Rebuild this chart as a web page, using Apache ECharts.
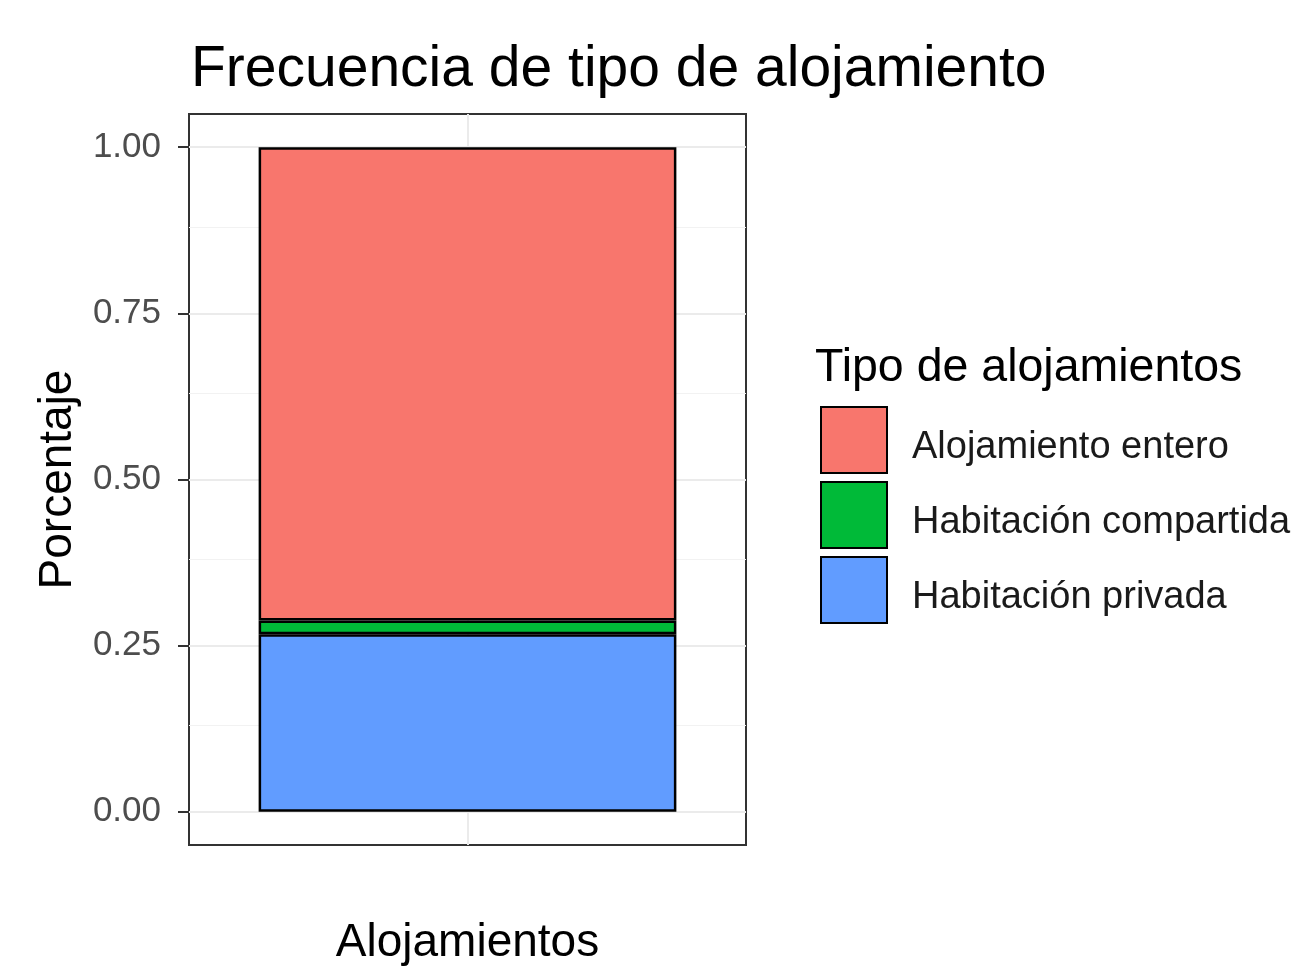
<!DOCTYPE html>
<html>
<head>
<meta charset="utf-8">
<script src="https://cdn.jsdelivr.net/npm/echarts@6/dist/echarts.min.js"></script>
<style>
  html, body { margin: 0; padding: 0; background: #fff; }
  #chart { width: 1315px; height: 970px; }
</style>
</head>
<body>
<div id="chart"></div>
<script>
  var categories = ['']
  var tipos = ['Alojamiento entero', 'Habitación compartida', 'Habitación privada']
  var entero = [0.712]
  var compartida = [0.021]
  var privada = [0.267]
  var majorTicks = [0, 0.25, 0.5, 0.75, 1]
  var minorTicks = [0.125, 0.375, 0.625, 0.875]

  var font = '"Liberation Sans", Arial, sans-serif'
  var myChart = echarts.init(document.getElementById('chart'))

  // lineas de la rejilla (estilo theme_bw)
  var gridLines = []
  majorTicks.forEach(function (v) {
    gridLines.push({ yAxis: v, lineStyle: { color: '#ebebeb', width: 2, type: 'solid' } })
  })
  minorTicks.forEach(function (v) {
    gridLines.push({ yAxis: v, lineStyle: { color: '#f2f2f2', width: 1, type: 'solid' } })
  })
  categories.forEach(function (c, i) {
    gridLines.push({ xAxis: i, lineStyle: { color: '#ebebeb', width: 2, type: 'solid' } })
  })

  function barSerie(name, data, color) {
    return {
      name: name,
      type: 'bar',
      stack: 'total',
      barWidth: '75%',
      z: 3,
      itemStyle: { color: color, borderColor: '#000', borderWidth: 2.5 },
      data: data
    }
  }

  var option = {
    backgroundColor: '#fff',
    animation: false,
    title: [{
      text: 'Frecuencia de tipo de alojamiento',
      left: 186,
      top: 37,
      textStyle: { fontFamily: font, fontSize: 57, fontWeight: 'normal', color: '#000' }
    }, {
      text: 'Tipo de alojamientos',
      left: 810,
      top: 340,
      textStyle: { fontFamily: font, fontSize: 46.5, fontWeight: 'normal', color: '#000' }
    }],
    legend: {
      data: tipos,
      orient: 'vertical',
      left: 815,
      top: 401,
      icon: 'rect',
      itemWidth: 66,
      itemHeight: 66,
      itemGap: 7,
      itemStyle: { borderColor: '#000', borderWidth: 2 },
      formatter: '{t|{name}}',
      textStyle: {
        fontFamily: font, fontSize: 38, color: '#1a1a1a',
        rich: { t: { fontFamily: font, fontSize: 38, color: '#1a1a1a', padding: [16, 0, 0, 20] } }
      },
      selectedMode: false
    },
    grid: {
      left: 189,
      top: 114,
      right: 569,
      bottom: 125,
      show: true,
      borderColor: '#333',
      borderWidth: 2,
      containLabel: false,
      outerBoundsMode: 'none'
    },
    xAxis: {
      type: 'category',
      data: categories,
      axisLine: { show: false },
      axisTick: { show: true, alignWithLabel: true, length: 11, lineStyle: { color: '#333', width: 2 } },
      axisLabel: { show: true },
      splitLine: { show: false },
      name: 'Alojamientos',
      nameLocation: 'middle',
      nameGap: 75,
      nameTextStyle: { fontFamily: font, fontSize: 46, color: '#000' }
    },
    yAxis: {
      type: 'value',
      min: -0.05,
      max: 1.05,
      axisLine: { show: false },
      axisTick: { show: true, length: 11, customValues: majorTicks, lineStyle: { color: '#333', width: 2 } },
      axisLabel: {
        customValues: majorTicks,
        margin: 28,
        fontFamily: font,
        fontSize: 35,
        color: '#4d4d4d',
        formatter: function (v) { return v.toFixed(2) }
      },
      splitLine: { show: false },
      name: 'Porcentaje',
      nameLocation: 'middle',
      nameRotate: 90,
      nameGap: 108,
      nameTextStyle: { fontFamily: font, fontSize: 46, color: '#000' }
    },
    series: [
      {
        name: 'rejilla',
        type: 'line',
        z: 1,
        data: [],
        markLine: {
          silent: true,
          z: 1,
          symbol: ['none', 'none'],
          label: { show: false },
          animation: false,
          data: gridLines
        }
      },
      barSerie('Habitación privada', privada, '#619CFF'),
      barSerie('Habitación compartida', compartida, '#00BA38'),
      barSerie('Alojamiento entero', entero, '#F8766D')
    ]
  }
  myChart.setOption(option)
</script>
</body>
</html>
